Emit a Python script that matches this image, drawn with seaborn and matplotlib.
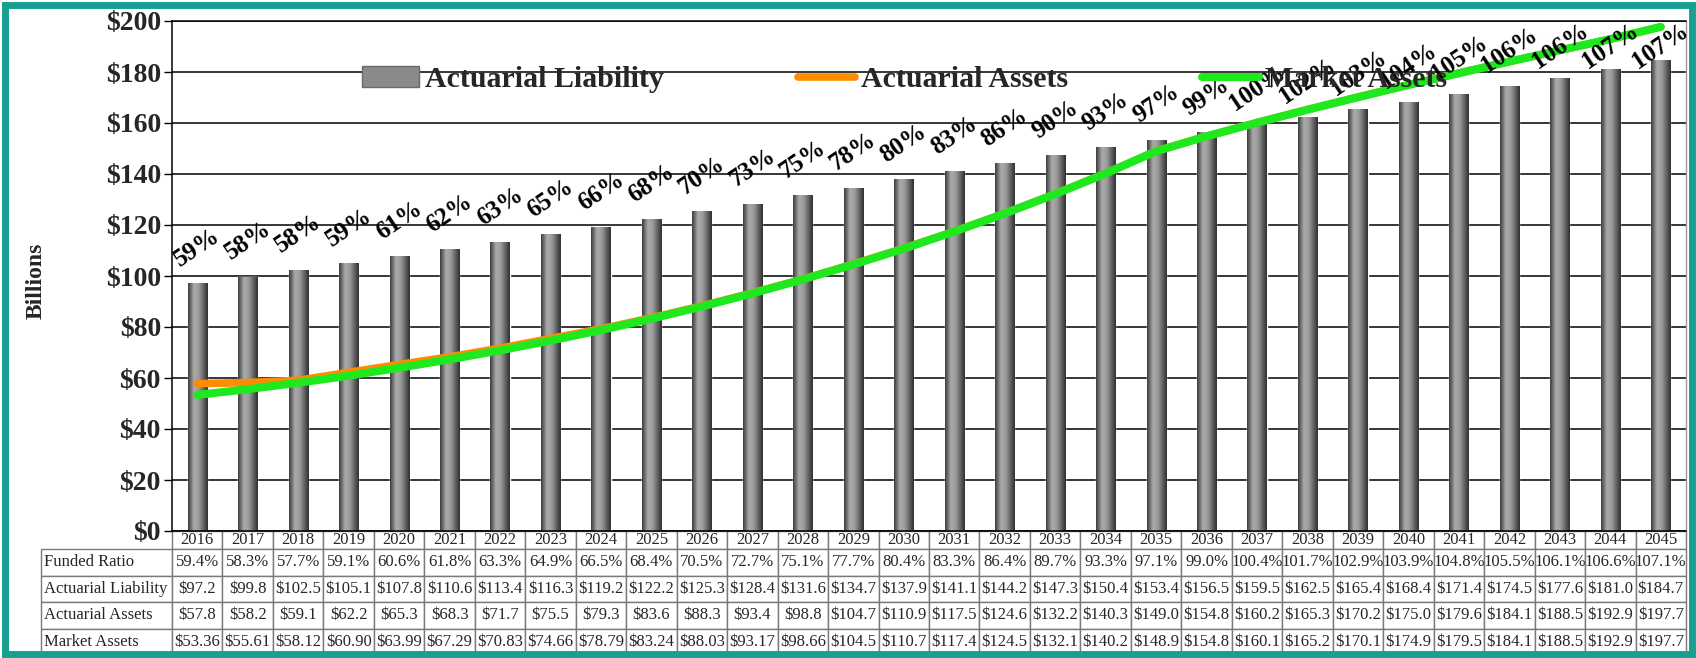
import numpy as np
import pandas as pd
import matplotlib
matplotlib.use("Agg")
import matplotlib.pyplot as plt
import seaborn as sns
from matplotlib.colors import LinearSegmentedColormap
from matplotlib.patches import Patch, Rectangle
from matplotlib.lines import Line2D
from matplotlib.table import Table

# ---- data -------------------------------------------------------------
years = [str(y) for y in range(2016, 2046)]
funded_ratio = [59.4, 58.3, 57.7, 59.1, 60.6, 61.8, 63.3, 64.9, 66.5, 68.4,
                70.5, 72.7, 75.1, 77.7, 80.4, 83.3, 86.4, 89.7, 93.3, 97.1,
                99.0, 100.4, 101.7, 102.9, 103.9, 104.8, 105.5, 106.1, 106.6, 107.1]
actuarial_liability = [97.2, 99.8, 102.5, 105.1, 107.8, 110.6, 113.4, 116.3, 119.2, 122.2,
                       125.3, 128.4, 131.6, 134.7, 137.9, 141.1, 144.2, 147.3, 150.4, 153.4,
                       156.5, 159.5, 162.5, 165.4, 168.4, 171.4, 174.5, 177.6, 181.0, 184.7]
actuarial_assets = [57.8, 58.2, 59.1, 62.2, 65.3, 68.3, 71.7, 75.5, 79.3, 83.6,
                    88.3, 93.4, 98.8, 104.7, 110.9, 117.5, 124.6, 132.2, 140.3, 149.0,
                    154.8, 160.2, 165.3, 170.2, 175.0, 179.6, 184.1, 188.5, 192.9, 197.7]
market_assets = [53.36, 55.61, 58.12, 60.90, 63.99, 67.29, 70.83, 74.66, 78.79, 83.24,
                 88.03, 93.17, 98.66, 104.5, 110.7, 117.4, 124.5, 132.1, 140.2, 148.9,
                 154.8, 160.1, 165.2, 170.1, 174.9, 179.5, 184.1, 188.5, 192.9, 197.7]
ratio_labels = ["59%", "58%", "58%", "59%", "61%", "62%", "63%", "65%", "66%", "68%",
                "70%", "73%", "75%", "78%", "80%", "83%", "86%", "90%", "93%", "97%",
                "99%", "100%", "102%", "103%", "104%", "105%", "106%", "106%", "107%", "107%"]
row_names = ["Funded Ratio", "Actuarial Liability", "Actuarial Assets", "Market Assets"]
y_ticks = list(range(0, 201, 20))


def money(v, digits=1):
    return f"${v:.{digits}f}"


def market_fmt(v):
    return f"${v:.2f}" if v < 100 else f"${v:.1f}"


table_rows = [
    [f"{v:.1f}%" for v in funded_ratio],
    [money(v) for v in actuarial_liability],
    [money(v) for v in actuarial_assets],
    [market_fmt(v) for v in market_assets],
]

df = pd.DataFrame({"year": years,
                   "liability": actuarial_liability,
                   "act_assets": actuarial_assets,
                   "mkt_assets": market_assets})

# ---- style ------------------------------------------------------------
sns.set_theme(style="white")
plt.rcParams["font.family"] = ["Liberation Serif", "DejaVu Serif"]

ORANGE = "#ff8c00"
GREEN = "#1ee81e"
TEAL = "#17a090"

fig = plt.figure(figsize=(16.96, 6.58), dpi=100)
fig.patch.set_facecolor("white")
W, H = 1696, 658
ax_l, ax_r, ax_t, ax_b = 172, 1686, 21, 531
ax = fig.add_axes([ax_l / W, 1 - ax_b / H, (ax_r - ax_l) / W, (ax_b - ax_t) / H])

# ---- bars with a cylinder-like shading -------------------------------
sns.barplot(data=df, x="year", y="liability", color="#8a8a8a", width=0.38,
            saturation=1, ax=ax, zorder=2)
shade = LinearSegmentedColormap.from_list(
    "cyl", [(0.0, "#3c3c3c"), (0.3, "#acacac"), (0.55, "#9a9a9a"), (1.0, "#303030")])
grad = np.linspace(0, 1, 64).reshape(1, -1)
for bar in list(ax.patches):
    x0, y0 = bar.get_x(), bar.get_y()
    bw, bh = bar.get_width(), bar.get_height()
    im = ax.imshow(grad, cmap=shade, aspect="auto", extent=(x0, x0 + bw, y0, y0 + bh),
                   zorder=2.1, interpolation="bicubic")
    im.set_clip_path(bar)

# ---- asset lines ------------------------------------------------------
xpos = np.arange(len(years))
sns.lineplot(x=xpos, y=actuarial_assets, color=ORANGE, lw=5.5, ax=ax, zorder=3)
sns.lineplot(x=xpos, y=market_assets, color=GREEN, lw=5.8, ax=ax, zorder=3.1)

# ---- funded-ratio labels above bars (kept inside the plot area) ------
label_y = np.minimum(np.array(actuarial_liability) + 14, 190.0)
for i, (txt, yv) in enumerate(zip(ratio_labels, label_y)):
    ax.text(i, yv, txt, rotation=34, ha="center", va="center",
            fontsize=18, fontweight="bold", color="black", zorder=4)

# ---- axes -------------------------------------------------------------
ax.set_ylim(0, 200)
ax.set_xlim(-0.5, len(years) - 0.5)
ax.set_yticks(y_ticks)
ax.set_yticklabels([f"${v}" for v in y_ticks], fontsize=20, fontweight="bold")
ax.tick_params(axis="y", direction="out", length=6, width=1, color="black", pad=2, left=True)
ax.tick_params(axis="x", bottom=False, labelbottom=False)
ax.set_xlabel("")
ax.set_ylabel("Billions", fontsize=17, fontweight="bold")
ax.yaxis.set_label_coords(-0.083, 0.49)
ax.yaxis.grid(True, color="black", lw=1.1)
ax.set_axisbelow(True)
for side in ["left", "top", "bottom"]:
    ax.spines[side].set_color("black")
    ax.spines[side].set_linewidth(1.1)
ax.spines["right"].set_color("#9a9a9a")
ax.spines["right"].set_linewidth(1.0)

# ---- legend -----------------------------------------------------------
handles = [Patch(facecolor="#8a8a8a", edgecolor="#6a6a6a"),
           Line2D([], [], color=ORANGE, lw=5.5),
           Line2D([], [], color=GREEN, lw=5.8)]
leg = ax.legend(handles, ["Actuarial Liability", "Actuarial Assets", "Market Assets"],
                loc="center", bbox_to_anchor=(0.484, 0.885), ncol=3, frameon=False,
                prop={"family": "Liberation Serif", "weight": "bold", "size": 21.5},
                handlelength=1.9, handletextpad=0.2, columnspacing=4.5)
leg.set_zorder(5)

# ---- data table below the plot ---------------------------------------
label_w = 131 / (ax_r - ax_l)
tbl_h = 124 / (ax_b - ax_t)
tbl = Table(ax, bbox=[-label_w, -tbl_h, 1 + label_w, tbl_h])
col_w = [label_w] + [1 / len(years)] * len(years)
row_h = [18] + [26.5] * len(row_names)
header = [""] + years
for c, text in enumerate(header):
    cell = tbl.add_cell(0, c, col_w[c], row_h[0], text=text, loc="center",
                        facecolor="white", edgecolor="#7a7a7a")
    if c == 0:
        cell.visible_edges = "open"
for r, name in enumerate(row_names, start=1):
    cells = [name] + table_rows[r - 1]
    for c, text in enumerate(cells):
        tbl.add_cell(r, c, col_w[c], row_h[r], text=text,
                     loc="left" if c == 0 else "center",
                     facecolor="white", edgecolor="#7a7a7a")
tbl.auto_set_font_size(False)
tbl.set_fontsize(12)
for (r, c), cell in tbl.get_celld().items():
    cell.set_linewidth(1.0)
    cell.PAD = 0.02 if c == 0 else 0.01
    cell.get_text().set_fontfamily("Liberation Serif")
ax.add_table(tbl)

# ---- teal frame around the figure ------------------------------------
fig.patches.append(Rectangle((4.5 / W, 4.5 / H), 1 - 9 / W, 1 - 9 / H,
                             transform=fig.transFigure, fill=False,
                             edgecolor=TEAL, lw=5.0, zorder=10))

fig.savefig("out.png", dpi=100, facecolor="white")
